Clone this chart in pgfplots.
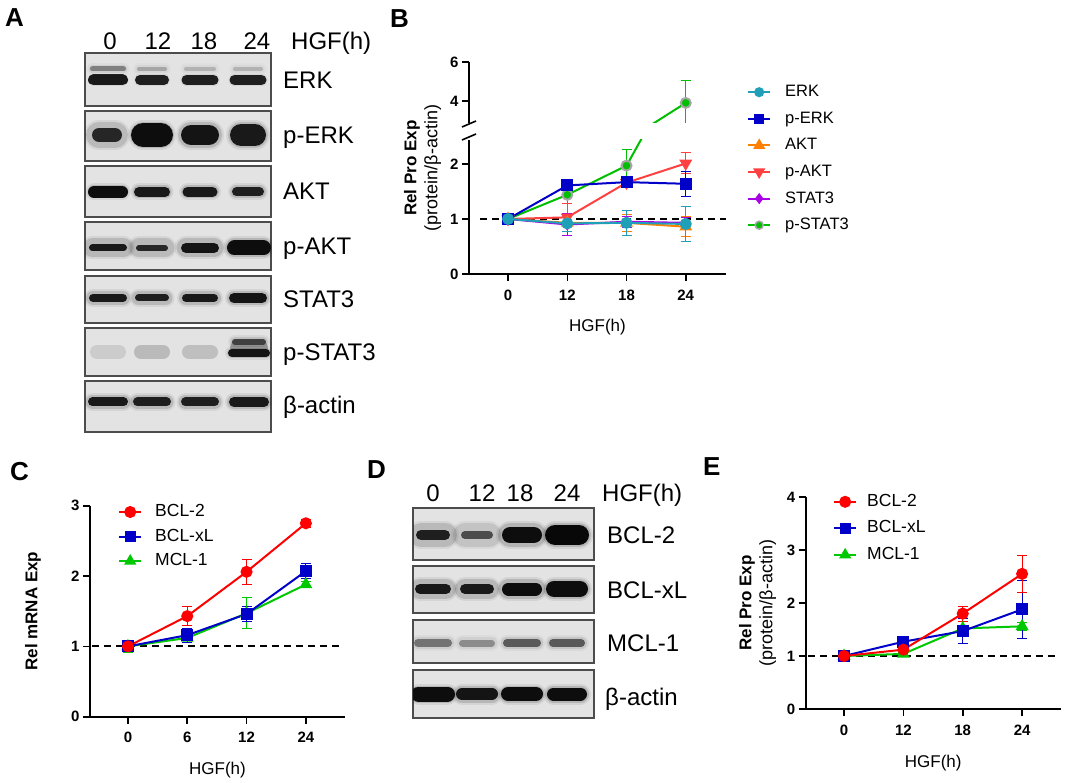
\documentclass[border=0pt]{standalone}
\usepackage{pgfplots}
\pgfplotsset{compat=1.18}
\usepackage{fontspec}
\setmainfont{Liberation Sans}
\definecolor{cERK}{RGB}{32,160,184}
\definecolor{cpERK}{RGB}{0,0,200}
\definecolor{cAKT}{RGB}{255,128,0}
\definecolor{cpAKT}{RGB}{255,64,64}
\definecolor{cSTAT}{RGB}{170,0,230}
\definecolor{cpSTAT}{RGB}{0,190,0}
\definecolor{cR}{RGB}{255,0,0}
\definecolor{cB}{RGB}{0,0,200}
\definecolor{cG}{RGB}{0,200,0}
\newcommand{\fs}[1]{\fontsize{#1}{#1}\selectfont}
% a blot band: centre x, y, width, thickness, colour
\newcommand{\band}[5]{%
  \pgfmathsetmacro\xa{#1-(#3)/2+(#4)/2}%
  \pgfmathsetmacro\xb{#1+(#3)/2-(#4)/2}%
  \pgfmathsetmacro\tw{#4+8}%
  \pgfmathsetmacro\tv{#4+4}%
  \addplot[line width=\tw pt, line cap=round, draw=#5, opacity=0.07] coordinates {(\xa,#2)(\xb,#2)};
  \addplot[line width=\tv pt, line cap=round, draw=#5, opacity=0.15] coordinates {(\xa,#2)(\xb,#2)};
  \addplot[line width=#4pt, line cap=round, draw=#5] coordinates {(\xa,#2)(\xb,#2)};}
\pgfplotsset{
  blot/.style n args={2}{scale only axis, width=#1pt, height=#2pt,
    xmin=0, xmax=#1, ymin=0, ymax=#2, xtick=\empty, ytick=\empty,
    axis line style={draw=black!70, line width=1.2pt},
    axis background/.style={fill=black!11}, anchor=south west},
  lineplot/.style={scale only axis, anchor=south west,
    axis x line=bottom, axis y line=left,
    axis line style={line width=1.6pt, -},
    tick style={line width=1.6pt, black}, tick align=outside,
    major tick length=7pt, minor tick num=0,
    ticklabel style={font=\fs{15}\bfseries},
    xticklabel style={yshift=-5pt},
    /pgf/number format/assume math mode=true,
    xtick={0,1,2,3},
    label style={font=\fs{17}},
    every axis plot/.append style={line width=2pt},
    error bars/error bar style={line width=1pt},
    error bars/error mark options={rotate=90, mark size=5pt, line width=1pt},
    legend style={draw=none, fill=none, inner sep=0pt, font=\fs{17.5},
      nodes={inner sep=0pt, text height=12.5pt, text depth=3.5pt},
      /tikz/column sep=13pt, legend cell align=left, anchor=north west},
    legend image code/.code={\draw[mark repeat=2, mark phase=2, #1] plot coordinates {(0pt,0pt)(11pt,0pt)(22pt,0pt)};},
  },
}
\begin{document}
\begin{tikzpicture}
\useasboundingbox (0,0) rectangle (1065pt,-783pt);
% ---------------- panel letters
\node[anchor=base west, font=\fs{26}\bfseries, inner sep=0pt] at (5pt,-27pt) {A};
\node[anchor=base west, font=\fs{26}\bfseries, inner sep=0pt] at (390pt,-28pt) {B};
\node[anchor=base west, font=\fs{26}\bfseries, inner sep=0pt] at (10pt,-480pt) {C};
\node[anchor=base west, font=\fs{26}\bfseries, inner sep=0pt] at (367pt,-478pt) {D};
\node[anchor=base west, font=\fs{26}\bfseries, inner sep=0pt] at (703pt,-475pt) {E};
% ---------------- panel A labels
\begin{scope}[every node/.style={font=\fs{24}, inner sep=0pt}]
\node[anchor=base] at (110pt,-50pt) {0};
\node[anchor=base] at (158pt,-50pt) {12};
\node[anchor=base] at (204pt,-50pt) {18};
\node[anchor=base] at (257pt,-50pt) {24};
\node[anchor=base west] at (291pt,-50pt) {HGF(h)};
\node[anchor=base west] at (283pt,-89pt) {ERK};
\node[anchor=base west] at (283pt,-144pt) {p-ERK};
\node[anchor=base west] at (283pt,-200pt) {AKT};
\node[anchor=base west] at (283pt,-255pt) {p-AKT};
\node[anchor=base west] at (283pt,-308pt) {STAT3};
\node[anchor=base west] at (283pt,-360pt) {p-STAT3};
\node[anchor=base west] at (283pt,-413pt) {β-actin};
% panel D labels
\node[anchor=base] at (433pt,-501pt) {0};
\node[anchor=base] at (482pt,-501pt) {12};
\node[anchor=base] at (520pt,-501pt) {18};
\node[anchor=base] at (567pt,-501pt) {24};
\node[anchor=base west] at (602pt,-501pt) {HGF(h)};
\node[anchor=base west] at (607pt,-543pt) {BCL-2};
\node[anchor=base west] at (607pt,-598pt) {BCL-xL};
\node[anchor=base west] at (607pt,-651pt) {MCL-1};
\node[anchor=base west] at (605pt,-705pt) {β-actin};
\end{scope}
% ---------------- panel A blots
\begin{axis}[blot={186}{53}, at={(85pt,-106pt)}]
\band{23}{26}{40}{11}{black!90}\band{67}{26}{34}{10}{black!88}\band{115}{26}{37}{10}{black!88}\band{163}{26}{37}{10}{black!88}
\band{23}{37}{36}{5}{black!50}\band{67}{37}{30}{4}{black!35}\band{115}{37}{32}{4}{black!30}\band{163}{37}{30}{4}{black!30}
\end{axis}
\begin{axis}[blot={186}{50}, at={(85pt,-161pt)}]
\band{22}{26}{30}{14}{black!85}\band{67}{26}{42}{24}{black!95}\band{115}{26}{38}{20}{black!92}\band{163}{26}{36}{22}{black!90}
\end{axis}
\begin{axis}[blot={186}{51}, at={(85pt,-217pt)}]
\band{23}{25}{40}{12}{black!95}\band{67}{25}{36}{10}{black!90}\band{115}{25}{35}{10}{black!90}\band{163}{25}{32}{9}{black!88}
\end{axis}
\begin{axis}[blot={186}{48}, at={(85pt,-270pt)}]
\band{23}{22}{38}{7}{black!90}\band{67}{22}{32}{6}{black!85}\band{115}{22}{38}{10}{black!92}\band{164}{22}{44}{15}{black!95}
\end{axis}
\begin{axis}[blot={186}{47}, at={(85pt,-323pt)}]
\band{23}{25}{38}{8}{black!90}\band{67}{25}{34}{7}{black!88}\band{115}{25}{36}{8}{black!90}\band{163}{25}{38}{10}{black!92}
\end{axis}
\begin{axis}[blot={186}{48}, at={(85pt,-376pt)}]
\band{23}{24}{36}{14}{black!20}\band{67}{24}{36}{14}{black!27}\band{115}{24}{36}{14}{black!25}
\band{164}{28}{38}{16}{black!35}\band{164}{23}{42}{8}{black!92}\band{164}{34}{34}{6}{black!75}
\end{axis}
\begin{axis}[blot={186}{51}, at={(85pt,-432pt)}]
\band{23}{30}{40}{9}{black!90}\band{67}{30}{38}{9}{black!88}\band{115}{30}{38}{9}{black!88}\band{164}{30}{40}{10}{black!90}
\end{axis}
% ---------------- panel D blots
\begin{axis}[blot={181}{52}, at={(413pt,-560pt)}]
\band{20}{25}{34}{10}{black!88}\band{64}{25}{32}{8}{black!70}\band{109}{25}{40}{16}{black!95}\band{154}{25}{44}{20}{black!97}
\end{axis}
\begin{axis}[blot={181}{47}, at={(413pt,-613pt)}]
\band{20}{24}{36}{10}{black!90}\band{64}{24}{34}{10}{black!90}\band{109}{24}{40}{13}{black!95}\band{154}{24}{42}{16}{black!95}
\end{axis}
\begin{axis}[blot={181}{43}, at={(413pt,-663pt)}]
\band{20}{20}{38}{8}{black!55}\band{64}{20}{36}{7}{black!45}\band{109}{20}{38}{8}{black!65}\band{154}{20}{36}{8}{black!65}
\end{axis}
\begin{axis}[blot={181}{48}, at={(413pt,-718pt)}]
\band{20}{24}{44}{15}{black!95}\band{64}{24}{42}{12}{black!92}\band{109}{24}{42}{14}{black!95}\band{154}{24}{40}{13}{black!95}
\end{axis}
% ---------------- panel B, upper part (broken axis)
\begin{axis}[lineplot, at={(469pt,-123pt)}, width=257pt, height=61pt,
  xmin=-0.66, xmax=3.68, ymin=2.87, ymax=6, ytick={4,6}, hide x axis]
\addplot[cpSTAT, mark=*, mark size=5pt, mark options={fill=cpSTAT, draw=black!35, line width=2pt},
  error bars/.cd, y dir=both, y explicit]
  coordinates {(0,1) +- (0,0.02) (1,1.44) +- (0,0.15) (2,1.97) +- (0,0.3) (3,3.9) +- (0,1.15)};
\end{axis}
% ---------------- panel B, lower part
\begin{axis}[lineplot, at={(469pt,-274pt)}, width=257pt, height=134pt,
  xmin=-0.66, xmax=3.68, ymin=0, ymax=2.436, ytick={0,1,2},
  xticklabels={0,12,18,24},
  xlabel={HGF(h)}, xlabel style={at={(axis description cs:0.5,-0.3955)}, anchor=center},
  ylabel={\textbf{Rel Pro Exp}\\\fontsize{18}{18}\selectfont(protein/β-actin)},
  ylabel style={at={(axis description cs:-0.181,0.79)}, anchor=center, align=center, font=\fontsize{17}{21}\selectfont},
  legend style={at={(axis description cs:1.0817,1.418)}, row sep=10.6pt, /tikz/column sep=14pt, font=\fs{16.5}}]
\addlegendimage{cERK, mark=*, mark size=4pt, line width=2pt}\addlegendentry{ERK}
\addlegendimage{cpERK, mark=square*, mark size=4pt, line width=2pt}\addlegendentry{p-ERK}
\addlegendimage{cAKT, mark=triangle*, mark size=5pt, line width=2pt}\addlegendentry{AKT}
\addlegendimage{cpAKT, mark=triangle*, mark size=5pt, mark options={rotate=180}, line width=2pt}\addlegendentry{p-AKT}
\addlegendimage{cSTAT, mark=diamond*, mark size=4pt, line width=2pt}\addlegendentry{STAT3}
\addlegendimage{cpSTAT, mark=*, mark size=4pt, mark options={fill=cpSTAT, draw=black!35, line width=1.5pt}, line width=2pt}\addlegendentry{p-STAT3}
\addplot[black, dashed, dash pattern=on 7pt off 5pt, line width=1.8pt, forget plot] coordinates {(-0.47,1)(3.68,1)};
\addplot[cpSTAT, mark=*, mark size=5pt, mark options={fill=cpSTAT, draw=black!35, line width=2pt}, forget plot,
  error bars/.cd, y dir=both, y explicit]
  coordinates {(0,1) +- (0,0.02) (1,1.44) +- (0,0.15) (2,1.97) +- (0,0.3) (3,3.9) +- (0,1.15)};
\addplot[cpAKT, mark=triangle*, mark size=5.5pt, mark options={rotate=180}, forget plot,
  error bars/.cd, y dir=both, y explicit]
  coordinates {(0,1) +- (0,0.02) (1,1.03) +- (0,0.25) (2,1.66) +- (0,0.04) (3,2.01) +- (0,0.19)};
\addplot[cAKT, mark=triangle*, mark size=5.5pt, forget plot,
  error bars/.cd, y dir=both, y explicit]
  coordinates {(0,1) +- (0,0.02) (1,0.93) +- (0,0.15) (2,0.93) +- (0,0.15) (3,0.86) +- (0,0.18)};
\addplot[cSTAT, mark=diamond*, mark size=4.5pt, forget plot,
  error bars/.cd, y dir=both, y explicit]
  coordinates {(0,1) +- (0,0.02) (1,0.9) +- (0,0.2) (2,0.95) +- (0,0.1) (3,0.93) +- (0,0.1)};
\addplot[cpERK, mark=square*, mark size=5pt, forget plot,
  error bars/.cd, y dir=both, y explicit]
  coordinates {(0,1) +- (0,0.02) (1,1.61) +- (0,0.05) (2,1.67) +- (0,0.05) (3,1.64) +- (0,0.23)};
\addplot[cERK, mark=*, mark size=5pt, forget plot,
  error bars/.cd, y dir=both, y explicit]
  coordinates {(0,1) +- (0,0.03) (1,0.92) +- (0,0.15) (2,0.93) +- (0,0.23) (3,0.91) +- (0,0.32)};
\end{axis}
% break marks on the y axis of B
\draw[line width=1.6pt] (462pt,-127pt) -- (476pt,-121pt);
\draw[line width=1.6pt] (462pt,-140pt) -- (476pt,-134pt);
% ---------------- panel C
\begin{axis}[lineplot, at={(90pt,-716.7pt)}, width=255pt, height=211pt,
  xmin=-0.64, xmax=3.66, ymin=0, ymax=3, ytick={0,1,2,3},
  xticklabels={0,6,12,24},
  xlabel={HGF(h)}, xlabel style={at={(axis description cs:0.5,-0.2526)}, anchor=center},
  ylabel={\textbf{Rel mRNA Exp}},
  ylabel style={at={(axis description cs:-0.2235,0.5)}, anchor=center},
  legend style={at={(axis description cs:0.1098,1.009)}, row sep=8.5pt}]
\addlegendimage{cR, mark=*, mark size=5pt, line width=2pt}\addlegendentry{BCL-2}
\addlegendimage{cB, mark=square*, mark size=4.5pt, line width=2pt}\addlegendentry{BCL-xL}
\addlegendimage{cG, mark=triangle*, mark size=5pt, line width=2pt}\addlegendentry{MCL-1}
\addplot[black, dashed, dash pattern=on 7pt off 5pt, line width=1.8pt, forget plot] coordinates {(-0.6,1)(3.6,1)};
\addplot[cG, mark=triangle*, mark size=5.5pt, forget plot, error bars/.cd, y dir=both, y explicit]
  coordinates {(0,1) +- (0,0.09) (1,1.12) +- (0,0.06) (2,1.47) +- (0,0.22) (3,1.88) +- (0,0.04)};
\addplot[cB, mark=square*, mark size=5pt, forget plot, error bars/.cd, y dir=both, y explicit]
  coordinates {(0,1) +- (0,0.08) (1,1.16) +- (0,0.1) (2,1.46) +- (0,0.1) (3,2.07) +- (0,0.11)};
\addplot[cR, mark=*, mark size=5pt, forget plot, error bars/.cd, y dir=both, y explicit]
  coordinates {(0,1) +- (0,0.05) (1,1.43) +- (0,0.13) (2,2.06) +- (0,0.18) (3,2.75) +- (0,0.06)};
\end{axis}
% ---------------- panel E
\begin{axis}[lineplot, at={(805.7pt,-709pt)}, width=255pt, height=212pt,
  xmin=-0.645, xmax=3.65, ymin=0, ymax=4, ytick={0,1,2,3,4},
  xticklabels={0,12,18,24},
  xlabel={HGF(h)}, xlabel style={at={(axis description cs:0.5,-0.2547)}, anchor=center},
  ylabel={\textbf{Rel Pro Exp}\\\fontsize{18}{18}\selectfont(protein/β-actin)},
  ylabel style={at={(axis description cs:-0.189,0.5)}, anchor=center, align=center, font=\fontsize{17}{21}\selectfont},
  legend style={at={(axis description cs:0.107,1.016)}, row sep=10.5pt, /tikz/column sep=10pt}]
\addlegendimage{cR, mark=*, mark size=5pt, line width=2pt}\addlegendentry{BCL-2}
\addlegendimage{cB, mark=square*, mark size=4.5pt, line width=2pt}\addlegendentry{BCL-xL}
\addlegendimage{cG, mark=triangle*, mark size=5pt, line width=2pt}\addlegendentry{MCL-1}
\addplot[black, dashed, dash pattern=on 7pt off 5pt, line width=1.8pt, forget plot] coordinates {(-0.6,1)(3.55,1)};
\addplot[cG, mark=triangle*, mark size=5.5pt, forget plot, error bars/.cd, y dir=both, y explicit]
  coordinates {(0,1) +- (0,0.02) (1,1.04) +- (0,0.02) (2,1.52) +- (0,0.14) (3,1.56) +- (0,0.08)};
\addplot[cB, mark=square*, mark size=5pt, forget plot, error bars/.cd, y dir=both, y explicit]
  coordinates {(0,1) +- (0,0.02) (1,1.27) +- (0,0.04) (2,1.47) +- (0,0.24) (3,1.88) +- (0,0.55)};
\addplot[cR, mark=*, mark size=5pt, forget plot, error bars/.cd, y dir=both, y explicit]
  coordinates {(0,1) +- (0,0.02) (1,1.12) +- (0,0.04) (2,1.8) +- (0,0.14) (3,2.55) +- (0,0.35)};
\end{axis}
\end{tikzpicture}
\end{document}
